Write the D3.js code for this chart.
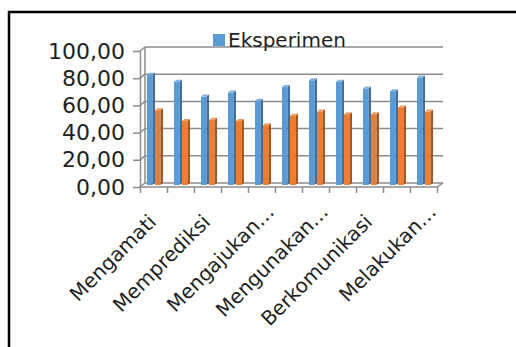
<!DOCTYPE html>
<html>
<head>
<meta charset="utf-8">
<script src="https://cdn.jsdelivr.net/npm/d3@7"></script>
<style>
  html, body { margin: 0; padding: 0; background: #fff; overflow: hidden; }
  text { font-family: "DejaVu Sans", sans-serif; fill: #1f1f1f; }
</style>
</head>
<body>
<svg id="chart" width="516" height="347"></svg>
<script>
const categories = [
  'Mengamati', 'Mengklasifikasi', 'Memprediksi', 'Menafsirkan',
  'Mengajukan pertanyaan', 'Berhipotesis', 'Mengunakan alat dan bahan',
  'Menerapkan konsep', 'Berkomunikasi', 'Merencanakan percobaan', 'Melakukan percobaan'
];
// only every second category gets a label on the axis
const tickLabels = ['Mengamati', 'Memprediksi', 'Mengajukan…', 'Mengunakan…', 'Berkomunikasi', 'Melakukan…'];
const yTicks = [0, 20, 40, 60, 80, 100];
const eksperimen = [81, 76, 65, 68, 62, 72, 77, 76, 71, 69, 79];
const kontrol = [55, 47, 48, 47, 44, 51, 54, 52, 52, 57, 54];

const svg = d3.select('#chart');
const gridColor = '#8c8c8c';
const depth = { dx: 5, dy: -4 };    // wall / floor depth
const barDepth = { dx: 2.5, dy: -2 };

// frame round the chart
svg.append('rect')
  .attr('x', 9).attr('y', 12)
  .attr('width', 530).attr('height', 360)
  .attr('fill', 'none')
  .attr('stroke', '#000')
  .attr('stroke-width', 2.5);

const x = d3.scaleBand().domain(categories).range([140, 437]);
const xEdge = d3.scaleLinear().domain([0, categories.length]).range([140, 437]);
const yFront = d3.scaleLinear().domain([0, 100]).range([187, 51]);
const yBack = d3.scaleLinear().domain([0, 100]).range([183, 47]);
const yBar = d3.scaleLinear().domain([0, 100]).range([185, 49]);

// back wall grid lines + side wall slant
const grid = svg.append('g');
yTicks.forEach((v) => {
  grid.append('line')
    .attr('x1', 140 + depth.dx).attr('x2', 443)
    .attr('y1', yBack(v)).attr('y2', yBack(v))
    .attr('stroke', gridColor).attr('stroke-width', 1.5);
  grid.append('line')
    .attr('x1', 140).attr('x2', 140 + depth.dx)
    .attr('y1', yFront(v)).attr('y2', yBack(v))
    .attr('stroke', gridColor).attr('stroke-width', 1.5);
});
grid.append('line')
  .attr('x1', 145).attr('x2', 145)
  .attr('y1', yBack(100)).attr('y2', yBack(0))
  .attr('stroke', gridColor).attr('stroke-width', 1.5);

// floor
grid.append('path')
  .attr('d', `M140,${yFront(0)}L437,${yFront(0)}L443,${yBack(0)}`)
  .attr('fill', 'none')
  .attr('stroke', gridColor).attr('stroke-width', 1.5);

// legend (sits on the top grid line)
svg.append('rect')
  .attr('x', 213).attr('y', 34)
  .attr('width', 12).attr('height', 12)
  .attr('fill', '#5b9bd5');
svg.append('text')
  .attr('x', 228).attr('y', 47)
  .style('font-size', '20px')
  .text('Eksperimen');

// y axis on the front edge
const yAxis = svg.append('g')
  .attr('transform', 'translate(140,0)')
  .call(d3.axisLeft(yFront)
    .tickValues(yTicks)
    .tickSize(7)
    .tickSizeOuter(0)
    .tickPadding(8)
    .tickFormat((v) => v.toFixed(2).replace('.', ',')));
yAxis.select('.domain').attr('stroke', gridColor).attr('stroke-width', 1.5);
yAxis.selectAll('.tick line').attr('stroke', gridColor).attr('stroke-width', 1.5);
yAxis.selectAll('.tick text')
  .style('font-size', '22px')
  .attr('fill', '#1f1f1f')
  .style('font-family', '"DejaVu Sans", sans-serif');

// x axis: ticks between categories
const xAxis = svg.append('g')
  .attr('transform', `translate(0,${yFront(0)})`)
  .call(d3.axisBottom(xEdge)
    .tickValues(d3.range(categories.length + 1))
    .tickSize(6)
    .tickSizeOuter(0)
    .tickFormat(''));
xAxis.select('.domain').remove();
xAxis.selectAll('.tick line').attr('stroke', gridColor).attr('stroke-width', 1.5);

// rotated category labels
tickLabels.forEach((label, i) => {
  const cat = categories[i * 2];
  const cx = x(cat) + x.bandwidth() / 2;
  const shift = label.endsWith('…') ? 14 : 0;
  svg.append('text')
    .attr('text-anchor', 'end')
    .attr('transform', `translate(${cx + 4 + shift * 0.707},${223 - shift * 0.707}) rotate(-45)`)
    .style('font-size', '20px')
    .text(label);
});

// 3d bars
function drawBar(g, x0, w, v, colors) {
  const y0 = yBar(0);
  const y1 = yBar(v);
  const { dx, dy } = barDepth;
  g.append('rect')
    .attr('x', x0).attr('y', y1)
    .attr('width', w).attr('height', y0 - y1)
    .attr('fill', colors[0]);
  g.append('path')
    .attr('d', `M${x0 + w},${y1}L${x0 + w + dx},${y1 + dy}L${x0 + w + dx},${y0 + dy}L${x0 + w},${y0}Z`)
    .attr('fill', colors[1]);
  g.append('path')
    .attr('d', `M${x0},${y1}L${x0 + dx},${y1 + dy}L${x0 + w + dx},${y1 + dy}L${x0 + w},${y1}Z`)
    .attr('fill', colors[2]);
}

const bars = svg.append('g');
const blue = ['#5b9bd5', '#3f6f9e', '#7db1e0'];
const orange = ['#ed7d31', '#a9561f', '#f29a5e'];
categories.forEach((cat, i) => {
  const c = x(cat) + x.bandwidth() / 2 + 1.5;
  drawBar(bars, c - 8, 5.5, eksperimen[i], blue);
  drawBar(bars, c, 5.5, kontrol[i], orange);
});
</script>
</body>
</html>
